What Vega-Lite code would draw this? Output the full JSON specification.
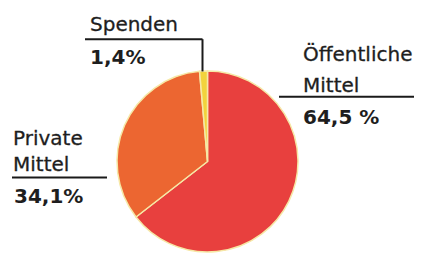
{
  "$schema": "https://vega.github.io/schema/vega-lite/v6.json",
  "width": 422,
  "height": 253,
  "autosize": {"type": "fit", "contains": "padding"},
  "padding": 0,
  "background": "#ffffff",
  "config": {"view": {"stroke": null}},
  "datasets": {
    "shares": [
      {"category": "Öffentliche Mittel", "share": 64.5, "rank": 1},
      {"category": "Private Mittel", "share": 34.1, "rank": 2},
      {"category": "Spenden", "share": 1.4, "rank": 3}
    ],
    "labels": [
      {"text": "Spenden", "px": 90, "py": 31, "kind": "name"},
      {"text": "1,4%", "px": 90, "py": 65, "kind": "value"},
      {"text": "Öffentliche", "px": 303, "py": 61, "kind": "name"},
      {"text": "Mittel", "px": 303, "py": 93, "kind": "name"},
      {"text": "64,5 %", "px": 303, "py": 125, "kind": "value"},
      {"text": "Private", "px": 13, "py": 146.5, "kind": "name"},
      {"text": "Mittel", "px": 13, "py": 172, "kind": "name"},
      {"text": "34,1%", "px": 14, "py": 205, "kind": "value"}
    ],
    "leaders": [
      {"x1": 85, "y1": 39.5, "x2": 202.5, "y2": 39.5},
      {"x1": 202.5, "y1": 39.5, "x2": 202.5, "y2": 72},
      {"x1": 279, "y1": 97.5, "x2": 414, "y2": 97.5},
      {"x1": 12, "y1": 179, "x2": 107, "y2": 179}
    ]
  },
  "layer": [
    {
      "data": {"name": "shares"},
      "mark": {"type": "arc", "x": 207.5, "y": 161.5, "outerRadius": 90.5, "stroke": "#f6e8a6", "strokeWidth": 1.5},
      "encoding": {
        "theta": {"field": "share", "type": "quantitative", "stack": true},
        "order": {"field": "rank", "type": "quantitative"},
        "color": {
          "field": "category",
          "type": "nominal",
          "legend": null,
          "scale": {
            "domain": ["Öffentliche Mittel", "Private Mittel", "Spenden"],
            "range": ["#e8403e", "#ec6631", "#f2d33c"]
          }
        }
      }
    },
    {
      "data": {"name": "leaders"},
      "mark": {"type": "rule", "color": "#1a1a1a", "strokeWidth": 2},
      "encoding": {
        "x": {"field": "x1", "type": "quantitative", "scale": {"domain": [0, 422], "nice": false, "zero": false}, "axis": null},
        "y": {"field": "y1", "type": "quantitative", "scale": {"domain": [253, 0], "nice": false, "zero": false}, "axis": null},
        "x2": {"field": "x2"},
        "y2": {"field": "y2"}
      }
    },
    {
      "data": {"name": "labels"},
      "transform": [{"filter": "datum.kind === 'name'"}],
      "mark": {"type": "text", "align": "left", "baseline": "alphabetic", "font": "DejaVu Sans", "fontSize": 20, "color": "#1e1e1e", "stroke": "#1e1e1e", "strokeWidth": 0.3},
      "encoding": {
        "x": {"field": "px", "type": "quantitative", "scale": {"domain": [0, 422], "nice": false, "zero": false}, "axis": null},
        "y": {"field": "py", "type": "quantitative", "scale": {"domain": [253, 0], "nice": false, "zero": false}, "axis": null},
        "text": {"field": "text"}
      }
    },
    {
      "data": {"name": "labels"},
      "transform": [{"filter": "datum.kind === 'value'"}],
      "mark": {"type": "text", "align": "left", "baseline": "alphabetic", "font": "DejaVu Sans", "fontSize": 20, "fontWeight": "bold", "color": "#1e1e1e"},
      "encoding": {
        "x": {"field": "px", "type": "quantitative", "scale": {"domain": [0, 422], "nice": false, "zero": false}, "axis": null},
        "y": {"field": "py", "type": "quantitative", "scale": {"domain": [253, 0], "nice": false, "zero": false}, "axis": null},
        "text": {"field": "text"}
      }
    }
  ]
}
